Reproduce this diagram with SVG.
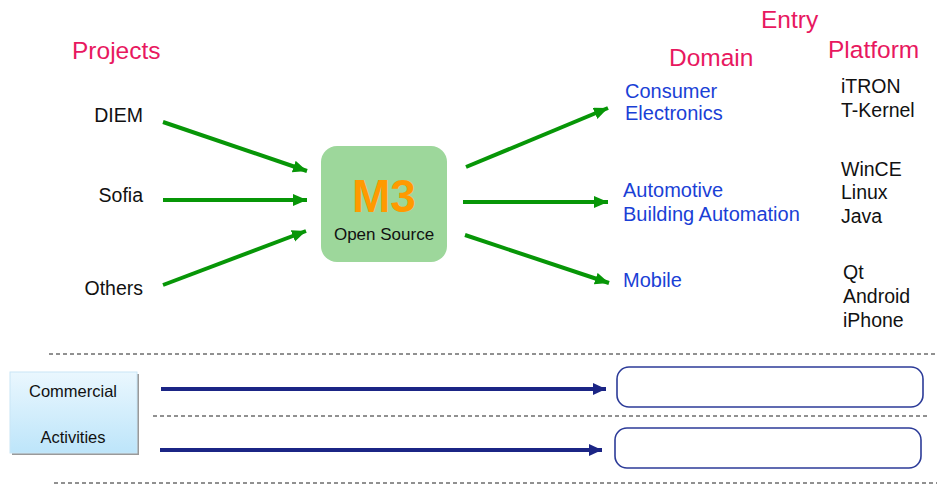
<svg xmlns="http://www.w3.org/2000/svg" width="937" height="484" viewBox="0 0 937 484">
<style>
text{font-family:"Liberation Sans",Arial,sans-serif}
.hdr{fill:#E8185F;font-size:24.5px}
.prj{fill:#111;font-size:19.5px}
.dom{fill:#1A3FD6;font-size:20px}
.plat{fill:#111;font-size:19.5px}
.g{stroke:#079607;stroke-width:4;fill:none}
.b{stroke:#1B2585;stroke-width:4;fill:none}
.dash{stroke:#222;stroke-width:1;stroke-dasharray:4 3;fill:none}
.slot{fill:#fff;stroke:#2C3B98;stroke-width:1.6}
</style>
<defs>
<marker id="ag" markerUnits="userSpaceOnUse" markerWidth="16" markerHeight="14" refX="14" refY="6" orient="auto">
<path d="M0,0 L14,6 L0,12 Z" fill="#079607"/>
</marker>
<marker id="ab" markerUnits="userSpaceOnUse" markerWidth="16" markerHeight="14" refX="13" refY="6" orient="auto">
<path d="M0,0 L13,6 L0,12 Z" fill="#1B2585"/>
</marker>
<linearGradient id="cg" x1="0" y1="0" x2="0" y2="1">
<stop offset="0" stop-color="#EAF7FE"/>
<stop offset="1" stop-color="#BDE5FA"/>
</linearGradient>
</defs>

<g id="headers">
<text class="hdr" x="72" y="59">Projects</text>
<text class="hdr" x="761" y="28">Entry</text>
<text class="hdr" x="669" y="66">Domain</text>
<text class="hdr" x="828" y="58">Platform</text>
</g>

<g id="projects">
<text class="prj" x="143" y="122" text-anchor="end">DIEM</text>
<text class="prj" x="143" y="202" text-anchor="end">Sofia</text>
<text class="prj" x="143" y="295" text-anchor="end">Others</text>
</g>

<g id="m3">
<rect x="321" y="146" width="126" height="116" rx="16" fill="#9DD79B"/>
<text x="384" y="212" text-anchor="middle" font-size="46" font-weight="bold" fill="#FF9A00">M3</text>
<text x="384" y="240" text-anchor="middle" font-size="17" fill="#111">Open Source</text>
</g>

<g id="domains">
<text class="dom" x="625" y="98">Consumer</text>
<text class="dom" x="625" y="120">Electronics</text>
<text class="dom" x="623" y="197">Automotive</text>
<text class="dom" x="623" y="221">Building Automation</text>
<text class="dom" x="623" y="287">Mobile</text>
</g>

<g id="platforms">
<text class="plat" x="841" y="93">iTRON</text>
<text class="plat" x="841" y="117">T-Kernel</text>
<text class="plat" x="841" y="176">WinCE</text>
<text class="plat" x="841" y="199">Linux</text>
<text class="plat" x="841" y="223">Java</text>
<text class="plat" x="843" y="279">Qt</text>
<text class="plat" x="843" y="303">Android</text>
<text class="plat" x="843" y="327">iPhone</text>
</g>

<g id="connectors">
<path class="g" d="M163,122 L307,171" marker-end="url(#ag)"/>
<path class="g" d="M163,200 L307,200" marker-end="url(#ag)"/>
<path class="g" d="M163,285 L306,231" marker-end="url(#ag)"/>
<path class="g" d="M466,167 L608,108" marker-end="url(#ag)"/>
<path class="g" d="M463,202 L608,202" marker-end="url(#ag)"/>
<path class="g" d="M465,235 L609,283" marker-end="url(#ag)"/>
<path class="b" d="M161,389 L606,389" marker-end="url(#ab)"/>
<path class="b" d="M160,450 L602,450" marker-end="url(#ab)"/>
</g>

<g id="separators">
<line class="dash" x1="49" y1="354" x2="937" y2="354"/>
<line class="dash" x1="153" y1="416" x2="928" y2="416"/>
<line class="dash" x1="54" y1="483" x2="937" y2="483"/>
</g>

<g id="commercial">
<rect x="12" y="374" width="127" height="81" fill="#9A9A9A"/>
<rect x="10" y="372" width="127" height="81" fill="url(#cg)" stroke="#C9E6F6" stroke-width="1"/>
<text x="73" y="397" text-anchor="middle" font-size="16.5" fill="#111">Commercial</text>
<text x="73" y="443" text-anchor="middle" font-size="16.5" fill="#111">Activities</text>
</g>

<g id="slot1">
<rect class="slot" x="617" y="367" width="306" height="40" rx="12"/>
</g>
<g id="slot2">
<rect class="slot" x="615" y="428" width="306" height="40" rx="12"/>
</g>
</svg>
